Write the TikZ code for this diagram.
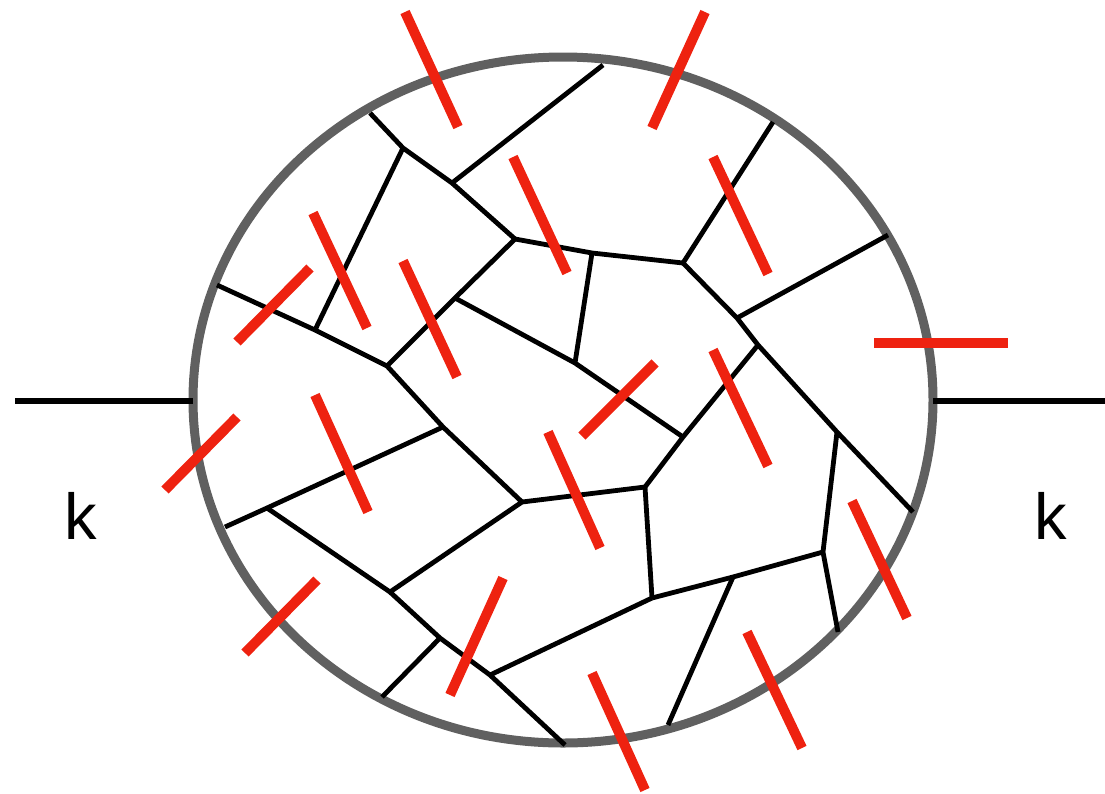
\documentclass[tikz,border=0pt]{standalone}
\usepackage{fontspec}
\setmainfont{Liberation Sans}
\definecolor{cutred}{RGB}{238,34,16}
\definecolor{rimgray}{RGB}{96,96,96}
\begin{document}
\begin{tikzpicture}[x=1pt,y=-1pt,
  edge/.style={black,line width=4.8pt},
  leg/.style={black,line width=6pt},
  cut/.style={cutred,line width=10pt},
  rim/.style={rimgray,line width=9pt},
  lbl/.style={font=\fontsize{65}{70}\selectfont,anchor=base,inner sep=0pt}]
\useasboundingbox (0,0) rectangle (1105,793);
% rim
\draw[rim] (563,400) ellipse [x radius=370, y radius=343];
% external legs
\coordinate (Lout) at (15,401);
\coordinate (Lin) at (193,401);
\coordinate (Rin) at (933,401);
\coordinate (Rout) at (1105,401);
\draw[leg] (Lout) -- (Lin);
\draw[leg] (Rin) -- (Rout);
\node[lbl] (kL) at (81,539) {k};
\node[lbl] (kR) at (1051,539) {k};
% vertices
\coordinate (b1) at (370,113);
\coordinate (b2) at (603,65);
\coordinate (b3) at (773,122);
\coordinate (b4) at (888,235);
\coordinate (b5) at (913,512);
\coordinate (b6) at (838,632);
\coordinate (b7) at (668,725);
\coordinate (b8) at (565,745);
\coordinate (b9) at (382,697);
\coordinate (b10) at (225,527);
\coordinate (b11) at (217,285);
\coordinate (v1) at (403,148);
\coordinate (v2) at (452,183);
\coordinate (v3) at (515,239);
\coordinate (v4) at (315,330);
\coordinate (v5) at (387,366);
\coordinate (v6) at (455,298);
\coordinate (v7) at (575,363);
\coordinate (v8) at (683,437);
\coordinate (v9) at (592,253);
\coordinate (v10) at (683,263);
\coordinate (v11) at (737,318);
\coordinate (v12) at (758,345);
\coordinate (v13) at (837,432);
\coordinate (v14) at (823,552);
\coordinate (v15) at (733,577);
\coordinate (v16) at (652,598);
\coordinate (v17) at (645,487);
\coordinate (v18) at (522,502);
\coordinate (v19) at (443,427);
\coordinate (v20) at (267,508);
\coordinate (v21) at (390,592);
\coordinate (v22) at (440,638);
\coordinate (v23) at (490,675);
% black edges
\draw[edge] (b1) -- (v1) -- (v2) -- (v3);
\draw[edge] (v2) -- (b2);
\draw[edge] (v1) -- (v4);
\draw[edge] (b11) -- (v4) -- (v5);
\draw[edge] (v5) -- (v6) -- (v3);
\draw[edge] (v6) -- (v7) -- (v8);
\draw[edge] (v3) -- (v9) -- (v10);
\draw[edge] (v9) -- (v7);
\draw[edge] (v10) -- (b3);
\draw[edge] (v10) -- (v11) -- (v12) -- (v13) -- (b5);
\draw[edge] (v11) -- (b4);
\draw[edge] (v12) -- (v8) -- (v17);
\draw[edge] (v13) -- (v14) -- (b6);
\draw[edge] (v14) -- (v15) -- (v16);
\draw[edge] (v15) -- (b7);
\draw[edge] (v16) -- (v17) -- (v18);
\draw[edge] (v5) -- (v19) -- (v18);
\draw[edge] (v19) -- (v20) -- (b10);
\draw[edge] (v20) -- (v21) -- (v18);
\draw[edge] (v21) -- (v22) -- (v23) -- (b8);
\draw[edge] (v22) -- (b9);
\draw[edge] (v23) -- (v16);
% red cuts
\coordinate (c1a) at (405,12);  \coordinate (c1b) at (458,127);
\coordinate (c2a) at (513,157); \coordinate (c2b) at (567,273);
\coordinate (c3a) at (313,213); \coordinate (c3b) at (367,328);
\coordinate (c4a) at (403,261); \coordinate (c4b) at (457,377);
\coordinate (c5a) at (310,268); \coordinate (c5b) at (237,342);
\coordinate (c6a) at (705,12);  \coordinate (c6b) at (652,128);
\coordinate (c7a) at (713,157); \coordinate (c7b) at (768,274);
\coordinate (c8a) at (874,343); \coordinate (c8b) at (1008,343);
\coordinate (c9a) at (655,363); \coordinate (c9b) at (582,436);
\coordinate (c10a) at (713,350); \coordinate (c10b) at (768,466);
\coordinate (c11a) at (237,417); \coordinate (c11b) at (165,490);
\coordinate (c12a) at (315,395); \coordinate (c12b) at (368,512);
\coordinate (c13a) at (548,432); \coordinate (c13b) at (600,548);
\coordinate (c14a) at (317,580); \coordinate (c14b) at (245,653);
\coordinate (c15a) at (503,578); \coordinate (c15b) at (450,695);
\coordinate (c16a) at (592,673); \coordinate (c16b) at (645,790);
\coordinate (c17a) at (747,632); \coordinate (c17b) at (802,748);
\coordinate (c18a) at (852,501); \coordinate (c18b) at (907,618);
\foreach \i in {1,...,18} {\draw[cut] (c\i a) -- (c\i b);}
\end{tikzpicture}
\end{document}
